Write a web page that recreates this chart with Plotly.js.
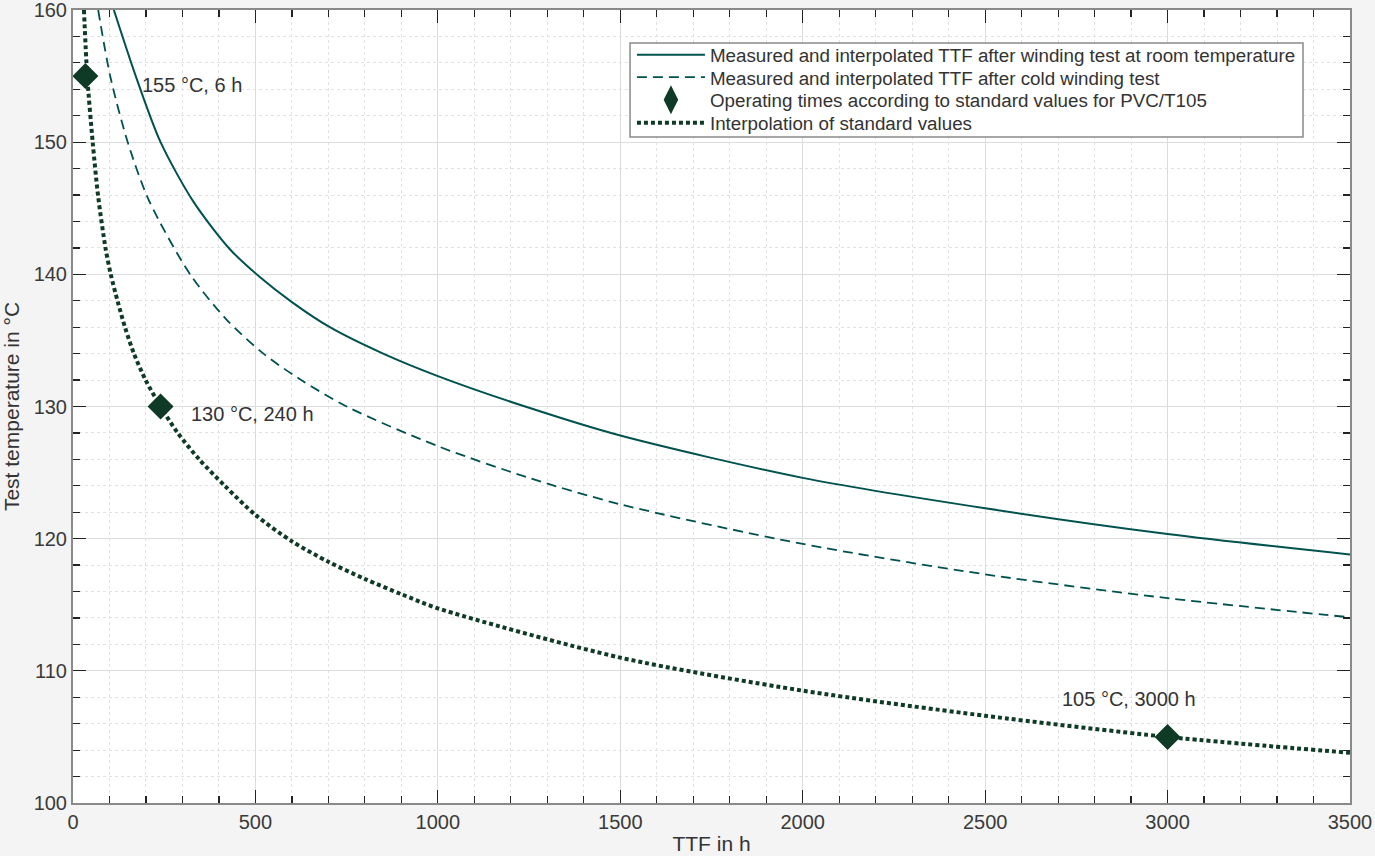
<!DOCTYPE html>
<html>
<head>
<meta charset="utf-8">
<script src="https://cdn.plot.ly/plotly-3.0.1.min.js"></script>
<style>
  html, body { margin: 0; padding: 0; background: #f4f4f4; }
  #ttfplot { width: 1375px; height: 856px; }
</style>
</head>
<body>
<div id="ttfplot"></div>
<script>
// values (TTF in h, temperature in degC)
var roomHours = [112, 172, 240, 330, 430, 512, 600, 704, 850, 1000, 1250, 1500, 2000, 2500, 3000, 3500];
var roomTemp  = [160, 155, 150, 145.5, 141.9, 139.8, 137.9, 136, 134, 132.3, 129.9, 127.8, 124.6, 122.3, 120.35, 118.8];

var coldHours = [69, 102, 150, 208, 321, 420, 522, 620, 750, 1000, 1250, 1500, 2000, 2500, 3000, 3500];
var coldTemp  = [160, 155, 150, 145.6, 140, 136.6, 134, 132.1, 130, 127, 124.6, 122.6, 119.6, 117.3, 115.5, 114.05];

var stdCurveHours = [30, 39, 54, 68.5, 89, 103.5, 122, 142.5, 167, 199, 240, 287, 346, 416, 500, 600, 700, 800, 900, 1000, 1500, 2000, 2500, 3000, 3500];
var stdCurveTemp  = [160, 155, 150, 146, 142, 140, 138, 136, 134, 132, 130, 128, 126, 124, 121.8, 119.8, 118.25, 116.95, 115.8, 114.73, 111.0, 108.5, 106.6, 105.0, 103.8];

var stdHours = [34, 240, 3000];
var stdTemp  = [155, 130, 105];
var stdLabels = ['155 °C, 6 h', '130 °C, 240 h', '105 °C, 3000 h'];
var labelX = [184, 319, 2705];
var labelY = [154.3, 129.4, 107.9];

var names = [
  'Measured and interpolated TTF after winding test at room temperature',
  'Measured and interpolated TTF after cold winding test',
  'Operating times according to standard values for PVC/T105',
  'Interpolation of standard values'
];

var teal = '#00524f';
var green = '#0f3a26';

var room = {
  x: roomHours, y: roomTemp, mode: 'lines', name: names[0], legend: 'legend',
  line: {color: teal, width: 2, shape: 'spline', smoothing: 0.8},
  hoverinfo: 'skip', type: 'scatter'
};
var cold = {
  x: coldHours, y: coldTemp, mode: 'lines', name: names[1], legend: 'legend2',
  line: {color: teal, width: 1.8, dash: '10px,6px', shape: 'spline', smoothing: 0.8},
  hoverinfo: 'skip', type: 'scatter'
};
var stdCurve = {
  x: stdCurveHours, y: stdCurveTemp, mode: 'lines', name: names[3], legend: 'legend4',
  line: {color: green, width: 4, dash: '4px,3px', shape: 'spline', smoothing: 0.8},
  hoverinfo: 'skip', type: 'scatter'
};
var stdPoints = {
  x: stdHours, y: stdTemp, mode: 'markers', name: names[2], showlegend: false,
  marker: {symbol: 'diamond', size: 20, color: green, line: {width: 0}},
  type: 'scatter'
};
// key entry only (tall diamond as in the original legend), no point of its own
var stdKey = {
  x: [null], y: [null], mode: 'markers', name: names[2], legend: 'legend3', showlegend: true,
  marker: {symbol: 'diamond-tall', size: 16, color: green, line: {width: 3, color: green}},
  hoverinfo: 'skip', type: 'scatter'
};

var annotations = [];
for (var i = 0; i < stdLabels.length; i++) {
  annotations.push({
    x: labelX[i], y: labelY[i], xref: 'x', yref: 'y', text: stdLabels[i],
    showarrow: false, xanchor: 'left', yanchor: 'middle',
    font: {family: 'Liberation Sans, Arial, sans-serif', size: 20, color: '#333333'}
  });
}

var axisCommon = {
  ticks: 'inside', ticklen: 13, tickwidth: 1.2, tickcolor: '#222222',
  showline: true, linecolor: '#8a8a8a', linewidth: 2, mirror: 'ticks',
  showgrid: true, gridcolor: '#dcdcdc', gridwidth: 1, zeroline: false,
  ticklabeloverflow: 'allow',
  tickfont: {size: 20, color: '#3a3a3a'}
};

function keyLegend(yc) {
  return {
    x: 0.4377, y: yc, xanchor: 'left', yanchor: 'middle',
    bgcolor: 'rgba(0,0,0,0)', borderwidth: 0,
    font: {size: 18.8, color: '#333333'}, itemwidth: 68
  };
}

var layout = {
  width: 1375, height: 856,
  margin: {l: 73, r: 25, t: 10, b: 53, pad: 0},
  paper_bgcolor: '#f4f4f4', plot_bgcolor: '#ffffff',
  font: {family: 'Liberation Sans, Arial, sans-serif', color: '#333333'},
  showlegend: true,
  legend: keyLegend(0.9433),
  legend2: keyLegend(0.9149),
  legend3: keyLegend(0.8865),
  legend4: keyLegend(0.8575),
  shapes: [{
    type: 'rect', xref: 'paper', yref: 'paper', layer: 'above',
    x0: 0.4362, x1: 0.9632, y0: 0.8398, y1: 0.9584,
    fillcolor: '#ffffff', line: {color: '#8a8a8a', width: 1.5}
  }],
  xaxis: Object.assign({}, axisCommon, {
    range: [0, 3500], dtick: 500, tick0: 0,
    title: {text: 'TTF in h', font: {size: 21, color: '#333333'}, standoff: 4},
    minor: {dtick: 100, ticks: 'inside', ticklen: 7, tickcolor: '#222222', showgrid: true, gridcolor: '#e2e2e2', griddash: 'dot'}
  }),
  yaxis: Object.assign({}, axisCommon, {
    range: [100, 160], dtick: 10, tick0: 100,
    title: {text: 'Test temperature in °C', font: {size: 21, color: '#333333'}, standoff: 8},
    minor: {dtick: 2, ticks: 'inside', ticklen: 7, tickcolor: '#222222', showgrid: true, gridcolor: '#e2e2e2', griddash: 'dot'}
  }),
  annotations: annotations
};

Plotly.newPlot('ttfplot', [room, cold, stdCurve, stdPoints, stdKey], layout, {displayModeBar: false, staticPlot: true});
</script>
</body>
</html>
